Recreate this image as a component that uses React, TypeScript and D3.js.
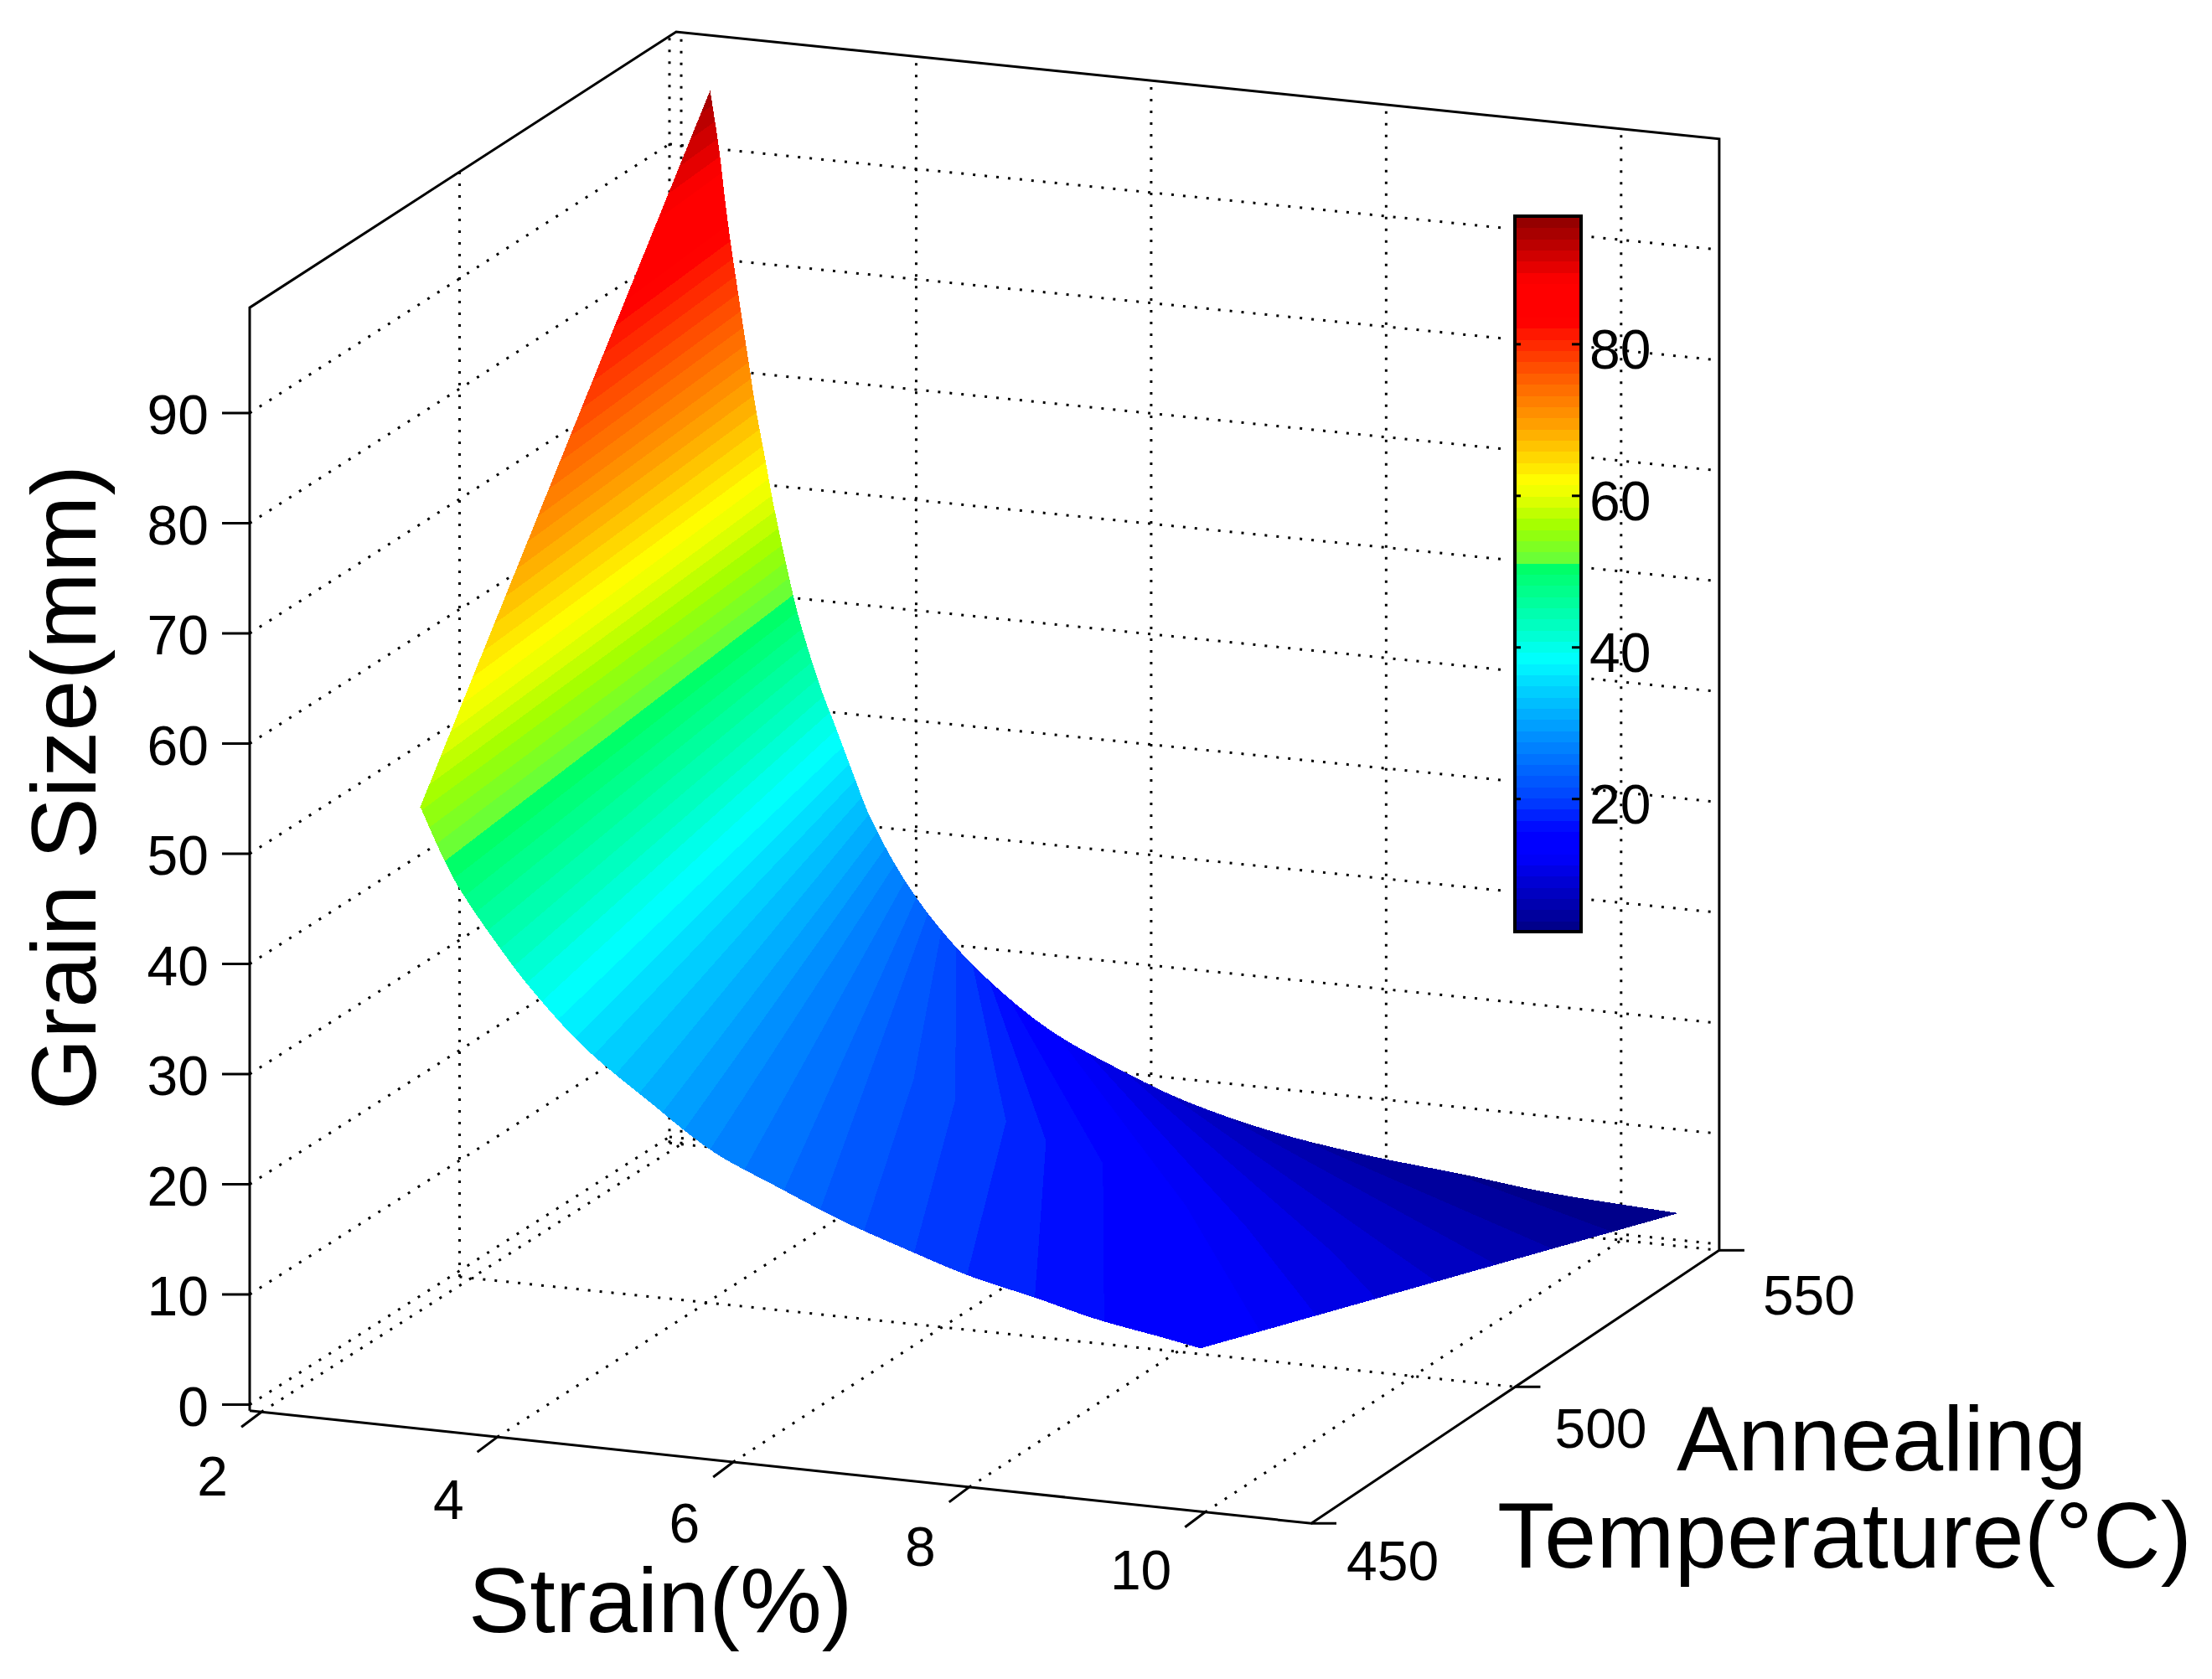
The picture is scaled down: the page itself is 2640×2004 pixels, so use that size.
import * as d3 from 'd3';

const WIDTH = 2640;
const HEIGHT = 2004;
const FONT = '"Liberation Sans", Arial, sans-serif';

// Axis ranges and ticks
const strainRange = [1.9, 10.9];
const tempRange = [450, 550];
const sizeRange = [-0.55, 99.8];
const strainTicks = [2, 4, 6, 8, 10];
const tempTicks = [450, 500, 550];
const sizeTicks = [0, 10, 20, 30, 40, 50, 60, 70, 80, 90];
const colorbarTicks = [20, 40, 60, 80];
const colorbarRange = [2.5, 96.9];

// Upper edge of the surface, at 550 C
const highSize = [95.1, 89.9, 85.4, 81.4, 77.9, 74.4, 71, 66.9, 62.4, 58.4, 52.5, 47.8, 42.2, 38.7, 34.6, 30.5, 24.8, 20, 15.9, 12.8, 10.2, 7.9, 5.9, 4.7, 3.9, 3, 2.4];
const highStrain = [2.245, 2.32, 2.37, 2.42, 2.47, 2.52, 2.57, 2.63, 2.71, 2.78, 2.9, 3.01, 3.18, 3.31, 3.46, 3.62, 3.94, 4.32, 4.76, 5.2, 5.74, 6.32, 7.1, 7.89, 8.67, 9.45, 10.47];

// Lower edge along 450 C, between the left tip and the bottom tip
const lowSize = [55.9, 51.8, 48.9, 44.2, 40.1, 35.5, 31.3, 27.4, 24.8, 22.4, 20.4, 18.6, 17.3, 15.9, 14.9, 14.3];
const lowStrain = [3.35, 3.53, 3.68, 4, 4.32, 4.76, 5.3, 5.84, 6.39, 6.93, 7.48, 8.02, 8.56, 9.1, 9.65, 9.96];

// The 500 C row where the colour bands bend
const midSize = [22.8, 21.2, 20, 18.8, 17.1, 15.65, 12.9, 10.5, 8.4];
const midStrain = [5.57, 5.86, 6.17, 6.52, 6.94, 7.41, 8.04, 9, 10.25];

// Colour bar
const colorValues = [2.5, 12.7, 15.7, 20, 29, 36.4, 38.4, 39.7, 42.4, 50.9, 51.1, 56, 60, 62, 69.5, 76, 81.7, 83, 88.4, 93, 96.9];
const colorStops = ['#000082', '#0000ff', '#0000ff', '#0040ff', '#0096ff', '#00e6ff', '#00ffff', '#00fff0', '#00ffc8', '#00ff64', '#60ff40', '#a0ff00', '#e6ff00', '#ffff00', '#ffa000', '#ff5a00', '#ff1400', '#ff0000', '#ff0000', '#be0000', '#8c0000'];
const bandCount = 64;

// Screen position of the box corners, indexed [temp][strain]
const cornerX = [[298, 1565], [799, 2061]];
const cornerY0 = [[1676.5, 1811], [1357, 1486]];
const cornerY90 = [[493, 627], [172, 299]];

const strainFrac = d3.scaleLinear().domain(strainRange).range([0, 1]);
const tempFrac = d3.scaleLinear().domain(tempRange).range([0, 1]);
const sizeFrac = d3.scaleLinear().domain([0, 90]).range([0, 1]);

function bilinear(c: number[][], a: number, b: number) {
  return c[0][0] * (1 - a) * (1 - b) + c[0][1] * a * (1 - b) + c[1][0] * (1 - a) * b + c[1][1] * a * b;
}

function project(strain: number, temp: number, size: number): [number, number] {
  const a = strainFrac(strain);
  const b = tempFrac(temp);
  const y0 = bilinear(cornerY0, a, b);
  const y90 = bilinear(cornerY90, a, b);
  return [bilinear(cornerX, a, b), y0 + (y90 - y0) * sizeFrac(size)];
}

// Smooth curve through read points, so the edges don't look faceted
function smoothThrough(xs: number[], ys: number[]) {
  const n = xs.length;
  const slope = xs.map((_, i) => {
    const a = Math.max(0, i - 1);
    const b = Math.min(n - 1, i + 1);
    return (ys[b] - ys[a]) / (xs[b] - xs[a]);
  });
  return (x: number) => {
    let i = 0;
    while (i < n - 2 && x < xs[i + 1]) i++;
    const h = xs[i + 1] - xs[i];
    const u = (x - xs[i]) / h;
    const u2 = u * u;
    const u3 = u2 * u;
    return (2 * u3 - 3 * u2 + 1) * ys[i] + (u3 - 2 * u2 + u) * h * slope[i]
      + (-2 * u3 + 3 * u2) * ys[i + 1] + (u3 - u2) * h * slope[i + 1];
  };
}

const highStrainAt = smoothThrough(highSize, highStrain);
const lowStrainAt = smoothThrough(lowSize, lowStrain);
const midStrainAt = smoothThrough(midSize, midStrain);

const topSize = highSize[0];
const bottomSize = highSize[highSize.length - 1];
const leftTipSize = lowSize[0];
const bottomTipSize = lowSize[lowSize.length - 1];
const topStrain = highStrain[0];
const rightStrain = highStrain[highStrain.length - 1];

const leftEdgeStrain = d3.scaleLinear().domain([topSize, leftTipSize]).range([topStrain, lowStrain[0]]);
const leftEdgeTemp = d3.scaleLinear().domain([topSize, leftTipSize]).range([550, 450]);
const tipEdgeStrain = d3.scaleLinear().domain([bottomTipSize, bottomSize]).range([lowStrain[lowStrain.length - 1], rightStrain]);
const tipEdgeTemp = d3.scaleLinear().domain([bottomTipSize, bottomSize]).range([450, 550]);
// The upper edge reads about a unit low against the colours in the middle
const highShift = d3.scaleLinear().domain([topSize, 70, 30, 12, bottomSize]).range([0, 1, 1, 0, 0]);

const jet = d3.scaleLinear<string>().domain(colorValues).range(colorStops).interpolate(d3.interpolateRgb).clamp(true);
const bandWidth = (colorbarRange[1] - colorbarRange[0]) / bandCount;
const bandIndex = (v: number) => Math.min(bandCount - 1, Math.max(0, Math.floor((v - colorbarRange[0]) / bandWidth)));
const bandColor = (i: number) => jet(colorbarRange[0] + (i + 0.5) * bandWidth);

function lowPoint(size: number) {
  if (size > leftTipSize) return project(leftEdgeStrain(size), leftEdgeTemp(size), size);
  if (size < bottomTipSize) return project(tipEdgeStrain(size), tipEdgeTemp(size), size);
  return project(lowStrainAt(size), 450, size);
}

// One line of equal grain size across the surface
function rung(size: number) {
  const shifted = size - highShift(size);
  const low = lowPoint(size);
  const high = project(highStrainAt(shifted), 550, shifted);
  if (size > midSize[0] || size < midSize[midSize.length - 1]) {
    return [low, high];
  }
  return [low, project(midStrainAt(size), 500, size), high];
}

const line = d3.line();
const step = 0.1;
const strips = d3.range(topSize, bottomSize, -step).map((size) => {
  const next = Math.max(size - step, bottomSize);
  return {
    size,
    d: line([...rung(size), ...rung(next).reverse()]) + 'Z',
    color: bandColor(bandIndex((size + next) / 2)),
  };
});

const [s0] = strainRange;
const [t0, t1] = tempRange;
const [z0, z1] = sizeRange;
// Where the floor's right edge lies in strain (the back runs a bit short)
const endStrain = d3.scaleLinear().domain(tempRange).range([10.9, 10.835]);
const s1 = endStrain(t0);
const s1Back = endStrain(t1);

const gridLines: number[][] = [
  // left wall and back wall
  ...sizeTicks.map((z) => [s0, t0, z, s0, t1, z]),
  ...sizeTicks.map((z) => [s0, t1, z, s1Back, t1, z]),
  ...tempTicks.filter((t) => t > t0).map((t) => [s0, t, z0, s0, t, z1]),
  ...strainTicks.map((s) => [s, t1, z0, s, t1, z1]),
  // floor
  ...strainTicks.map((s) => [s, t0, z0, s, t1, z0]),
  ...tempTicks.filter((t) => t > t0).map((t) => [s0, t, z0, endStrain(t), t, z0]),
];

function nudge(p: [number, number], dx: number, dy: number): [number, number] {
  return [p[0] + dx, p[1] + dy];
}

const boxPath = line([
  project(s0, t0, z0),
  nudge(project(s0, t0, z1), 0, 3),
  nudge(project(s0, t1, z1), 8, -5),
  nudge(project(s1Back, t1, z1), 0, -3),
  project(s1Back, t1, z0),
  project(s1, t0, z0),
  project(s0, t0, z0),
]) as string;

const strainLabelDrop = d3.scaleLinear().domain([2, 10]).range([100, 92]);
const tempLabelX = d3.scaleLinear().domain(tempRange).range([42, 52]);
const tempLabelY = d3.scaleLinear().domain(tempRange).range([68, 77]);

const colorbarY = d3.scaleLinear().domain(colorbarRange).range([1112, 258]);
const colorbarLeft = 1808;
const colorbarRight = 1887;

const tickLabelStyle = { fontFamily: FONT, fontSize: 66, fill: '#000' };
const titleStyle = { fontFamily: FONT, fontSize: 110, fill: '#000' };

function App() {
  return (
    <svg width={WIDTH} height={HEIGHT} style={{ position: 'absolute', left: 0, top: 0, display: 'block', background: '#fff' }}>
      <g stroke="#000" strokeWidth={3} strokeDasharray="3 11" fill="none">
        {gridLines.map((g, i) => {
          const a = project(g[0], g[1], g[2]);
          const b = project(g[3], g[4], g[5]);
          return <line key={i} x1={a[0]} y1={a[1]} x2={b[0]} y2={b[1]} />;
        })}
      </g>

      <g stroke="#000" strokeWidth={3} fill="none">
        <path d={boxPath} />
        {sizeTicks.map((z) => {
          const [x, y] = project(s0, t0, z);
          return <line key={z} x1={x - 33} y1={y} x2={x} y2={y} />;
        })}
        {strainTicks.map((s) => {
          const [x, y] = project(s, t0, z0);
          return <line key={s} x1={x} y1={y} x2={x - 24} y2={y + 18} />;
        })}
        {tempTicks.map((t) => {
          const [x, y] = project(endStrain(t), t, z0);
          return <line key={t} x1={x} y1={y} x2={x + 30} y2={y} />;
        })}
      </g>

      <g shapeRendering="crispEdges">
        {strips.map((s) => (
          <path key={s.size} d={s.d} fill={s.color} stroke={s.color} strokeWidth={1} />
        ))}
      </g>

      <g style={tickLabelStyle}>
        {sizeTicks.map((z) => (
          <text key={z} x={249} y={project(s0, t0, z)[1] + 25} textAnchor="end">{z}</text>
        ))}
        {strainTicks.map((s) => {
          const [x, y] = project(s, t0, z0);
          return <text key={s} x={x - 40} y={y + strainLabelDrop(s)} textAnchor="end">{s}</text>;
        })}
        {tempTicks.map((t) => {
          const [x, y] = project(endStrain(t), t, z0);
          return <text key={t} x={x + tempLabelX(t)} y={y + tempLabelY(t)}>{t}</text>;
        })}
      </g>

      <rect x={1797} y={250} width={95} height={870} fill="#fff" />
      <g shapeRendering="crispEdges">
        {d3.range(bandCount).map((i) => {
          const top = colorbarY(colorbarRange[0] + (i + 1) * bandWidth);
          const bottom = colorbarY(colorbarRange[0] + i * bandWidth);
          return <rect key={i} x={colorbarLeft} y={top} width={colorbarRight - colorbarLeft} height={bottom - top + 1} fill={bandColor(i)} />;
        })}
      </g>
      <rect x={colorbarLeft} y={258} width={colorbarRight - colorbarLeft} height={854} fill="none" stroke="#000" strokeWidth={4} />
      <g stroke="#000" strokeWidth={3}>
        {colorbarTicks.map((v) => (
          <g key={v}>
            <line x1={colorbarLeft} x2={colorbarLeft + 7} y1={colorbarY(v)} y2={colorbarY(v)} />
            <line x1={colorbarRight - 11} x2={colorbarRight} y1={colorbarY(v)} y2={colorbarY(v)} />
          </g>
        ))}
      </g>
      <g style={tickLabelStyle}>
        {colorbarTicks.map((v) => (
          <text key={v} x={1897} y={colorbarY(v) + 29}>{v}</text>
        ))}
      </g>

      <text style={titleStyle} transform="translate(114,1325) rotate(-90)">Grain Size(mm)</text>
      <text style={titleStyle} x={559} y={1948}>Strain(%)</text>
      <text style={titleStyle} x={2001} y={1755}>Annealing</text>
      <text style={{ ...titleStyle, fontSize: 112 }} x={1787} y={1871}>Temperature(°C)</text>
    </svg>
  );
}

export default App;
